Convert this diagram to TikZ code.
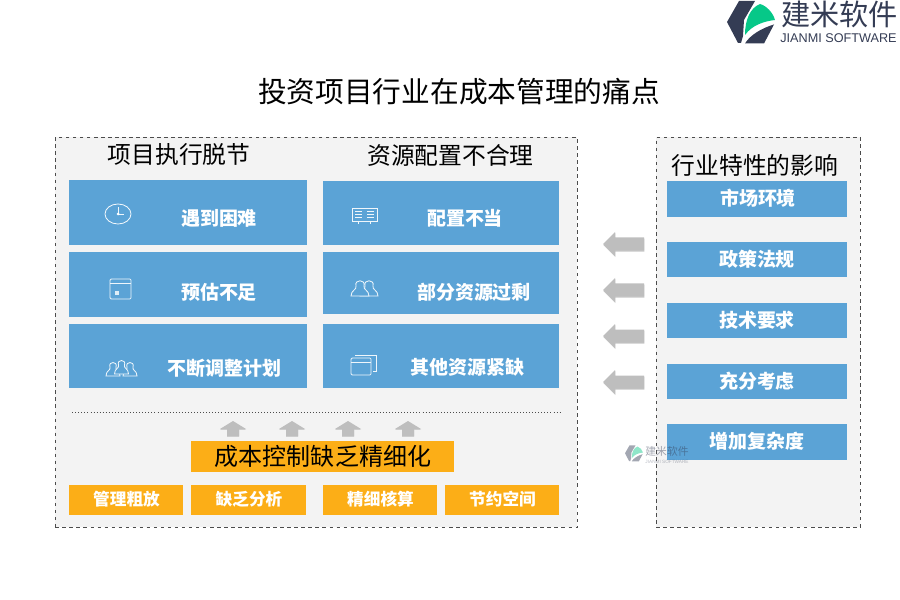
\documentclass[tikz,border=0pt]{standalone}
\usepackage{fontspec}
\setmainfont{Noto Sans CJK SC}
\newfontfamily\latinfont{Liberation Sans}
\usetikzlibrary{shapes,arrows,positioning,shadows}
\definecolor{cwBlue}{RGB}{91,163,214}
\definecolor{cwOrange}{RGB}{252,174,23}
\definecolor{cwPanel}{RGB}{243,243,243}
\definecolor{cwNavy}{RGB}{52,60,84}
\definecolor{cwGreen}{RGB}{6,200,136}
\definecolor{cwArrow}{RGB}{190,190,190}
\newcommand{\fsz}[1]{\fontsize{#1}{#1}\selectfont}
\tikzset{
  panelbox/.style={draw=black!70, dashed, fill=cwPanel, line width=0.6pt, minimum width=#1, anchor=north west, inner sep=0pt},
  bluebox/.style={fill=cwBlue, anchor=north west, inner sep=0pt},
  orangebox/.style={fill=cwOrange, anchor=north west, inner sep=0pt},
  whitetext/.style={text=white, inner sep=0pt, font=\bfseries\fsz{16.2}},
  subtext/.style={text=white, inner sep=0pt, font=\bfseries\fsz{14.2}},
  headtext/.style={text=black, inner sep=0pt, font=\fsz{20.3}},
  leftarrow/.style={fill=cwArrow, drop shadow={shadow xshift=0.4pt, shadow yshift=-1pt, fill=black!45, opacity=0.5}},
  uparrow/.style={fill=cwArrow, drop shadow={shadow xshift=0pt, shadow yshift=-0.8pt, fill=black!40, opacity=0.4}},
  iconline/.style={draw=white!90!cwBlue, line width=0.7pt},
}
\begin{document}
\begin{tikzpicture}[x=0.03cm, y=-0.03cm]
    \useasboundingbox (0,0) rectangle (900,600);
    % logo
    \fill[cwNavy] (739,1) -- (755,1) -- (744,20) -- (743,36) -- (741,43) -- (738,43) -- (727,22) -- cycle;
    \fill[cwGreen] (745,35) .. controls (745,20) and (750,8) .. (760,4) .. controls (767,6) and (773,13) .. (775,20) .. controls (765,21) and (752,25) .. (745,35);
    \fill[cwNavy] (745,43.5) .. controls (750,35) and (762,28) .. (774,24.5) -- (764,43.5) -- cycle;
    \node[inner sep=0pt, text=cwNavy, font=\fsz{24.9}] (logoname) at (839.5,14) {建米软件};
    \node[inner sep=0pt, text=cwNavy, font=\latinfont\fsz{10.8}] (logoeng) at (838.5,38) {JIANMI SOFTWARE};

    % title
    \node[inner sep=0pt, font=\fsz{24.5}] (title) at (459,92) {投资项目行业在成本管理的痛点};

    % panels
    \node[panelbox=522*0.03cm, minimum height=390*0.03cm] (panelL) at (55,137) {};
    \node[panelbox=204*0.03cm, minimum height=390*0.03cm] (panelR) at (656,137) {};
    \node[headtext] (headA) at (179,154) {项目执行脱节};
    \node[headtext] (headB) at (450.5,155) {资源配置不合理};
    \node[headtext] (headC) at (755,165) {行业特性的影响};

    % blue boxes
    \node[bluebox, minimum width=238*0.03cm, minimum height=65*0.03cm] (boxA) at (69,180) {};
    \node[bluebox, minimum width=238*0.03cm, minimum height=65*0.03cm] (boxB) at (69,252) {};
    \node[bluebox, minimum width=238*0.03cm, minimum height=64*0.03cm] (boxC) at (69,324) {};
    \node[bluebox, minimum width=236*0.03cm, minimum height=64*0.03cm] (boxD) at (323,181) {};
    \node[bluebox, minimum width=236*0.03cm, minimum height=62*0.03cm] (boxE) at (323,252) {};
    \node[bluebox, minimum width=236*0.03cm, minimum height=64*0.03cm] (boxF) at (323,324) {};
    \node[whitetext] (txtA) at (219,218) {遇到困难};
    \node[whitetext] (txtB) at (219,292) {预估不足};
    \node[whitetext] (txtC) at (224.5,368) {不断调整计划};
    \node[whitetext] (txtD) at (465,218) {配置不当};
    \node[whitetext] (txtE) at (474,292) {部分资源过剩};
    \node[whitetext] (txtF) at (467.5,367) {其他资源紧缺};

    % icons
    \draw[iconline] (118,214) circle[x radius=13, y radius=10];
    \draw[iconline] (118,207) -- (118,214) -- (124,214);
    \fill[white] (118,214) circle[radius=1.5];
    \draw[iconline, rounded corners=1pt] (110,279) rectangle (131,299);
    \draw[iconline] (110,283) -- (131,283);
    \fill[white!80!cwBlue] (115,291) rectangle (119,295);
    \foreach \hx/\hy in {113/361, 130/361, 121.5/359}
        \draw[iconline, fill=cwBlue] (\hx-7,\hy+15) .. controls (\hx-7,\hy+9) and (\hx-2,\hy+10) .. (\hx-3,\hy+6) .. controls (\hx-5,\hy) and (\hx+5,\hy) .. (\hx+3,\hy+6) .. controls (\hx+2,\hy+10) and (\hx+7,\hy+9) .. (\hx+7,\hy+15) -- cycle;
    \draw[iconline] (352,208) rectangle (377,221);
    \foreach \ly in {211,214,217} {
        \draw[iconline] (355,\ly) -- (362,\ly);
        \draw[iconline] (367,\ly) -- (374,\ly);
    }
    \draw[iconline] (358,221) -- (358,224);
    \draw[iconline] (370,221) -- (370,224);
    \foreach \hx/\hy in {369/279, 360/279}
        \draw[iconline, fill=cwBlue] (\hx-9,\hy+17) .. controls (\hx-9,\hy+11) and (\hx-3,\hy+11) .. (\hx-4,\hy+7) .. controls (\hx-6,\hy) and (\hx+6,\hy) .. (\hx+4,\hy+7) .. controls (\hx+3,\hy+11) and (\hx+9,\hy+11) .. (\hx+9,\hy+17) -- cycle;
    \draw[iconline, rounded corners=1pt] (351,358) rectangle (371,375);
    \draw[iconline] (351,362) -- (371,362);
    \draw[iconline] (355,356) -- (355,355) -- (376,355) -- (376,371) -- (373,371);

    % right column
    \node[bluebox, minimum width=180*0.03cm, minimum height=36*0.03cm] (mktbox) at (667,181) {};
    \node[bluebox, minimum width=180*0.03cm, minimum height=35*0.03cm] (lawbox) at (667,242) {};
    \node[bluebox, minimum width=180*0.03cm, minimum height=35*0.03cm] (techbox) at (667,303) {};
    \node[bluebox, minimum width=180*0.03cm, minimum height=35*0.03cm] (fullbox) at (667,364) {};
    \node[bluebox, minimum width=180*0.03cm, minimum height=36*0.03cm] (addbox) at (667,424) {};
    \node[whitetext] (mkttxt) at (758,198) {市场环境};
    \node[whitetext] (lawtxt) at (757,259) {政策法规};
    \node[whitetext] (techtxt) at (757,320) {技术要求};
    \node[whitetext] (fulltxt) at (757,381) {充分考虑};
    \node[whitetext] (addtxt) at (757,441) {增加复杂度};

    % arrows between the panels
    \foreach \ay in {244,290,336,382}
        \fill[leftarrow] (603,\ay) -- (615,\ay-12) -- (615,\ay-6.5) -- (644,\ay-6.5) -- (644,\ay+6.5) -- (615,\ay+6.5) -- (615,\ay+12) -- cycle;

    % watermark
    \begin{scope}[shift={(625,445)}, x=0.01125cm, y=-0.01125cm, opacity=0.45]
        \fill[cwNavy] (12,1) -- (28,1) -- (17,20) -- (16,36) -- (14,43) -- (11,43) -- (0,22) -- cycle;
        \fill[cwGreen] (18,35) .. controls (18,20) and (23,8) .. (33,4) .. controls (40,6) and (46,13) .. (48,20) .. controls (38,21) and (25,25) .. (18,35);
        \fill[cwNavy] (18,43.5) .. controls (23,35) and (35,28) .. (47,24.5) -- (37,43.5) -- cycle;
    \end{scope}
    \node[inner sep=0pt, text=cwNavy, opacity=0.45, font=\fsz{9.2}] (wmname) at (667,451) {建米软件};
    \node[inner sep=0pt, text=cwNavy, opacity=0.35, font=\latinfont\fsz{4}] (wmeng) at (667,462) {JIANMI SOFTWARE};

    % lower block
    \node[inner sep=0pt, minimum size=0pt] (dotL) at (72,412) {};
    \node[inner sep=0pt, minimum size=0pt] (dotR) at (562,412) {};
    \draw[black!70, dotted, line width=0.6pt] (dotL) -- (dotR);
    \foreach \ax in {233,292,348,408}
        \fill[uparrow] (\ax,421) -- (\ax+13,429) -- (\ax+6,429) -- (\ax+6,436) -- (\ax-6,436) -- (\ax-6,429) -- (\ax-13,429) -- cycle;
    \node[orangebox, minimum width=263*0.03cm, minimum height=31*0.03cm] (costbox) at (191,441) {};
    \node[inner sep=0pt, font=\fsz{20.5}] (costtxt) at (323,456) {成本控制缺乏精细化};
    \node[orangebox, minimum width=114*0.03cm, minimum height=30*0.03cm] (subA) at (69,485) {};
    \node[orangebox, minimum width=115*0.03cm, minimum height=30*0.03cm] (subB) at (191,485) {};
    \node[orangebox, minimum width=114*0.03cm, minimum height=30*0.03cm] (subC) at (323,485) {};
    \node[orangebox, minimum width=114*0.03cm, minimum height=30*0.03cm] (subD) at (445,485) {};
    \node[subtext] (subtxtA) at (126.5,499) {管理粗放};
    \node[subtext] (subtxtB) at (249,499) {缺乏分析};
    \node[subtext] (subtxtC) at (380.5,499) {精细核算};
    \node[subtext] (subtxtD) at (502.5,499) {节约空间};
\end{tikzpicture}
\end{document}
